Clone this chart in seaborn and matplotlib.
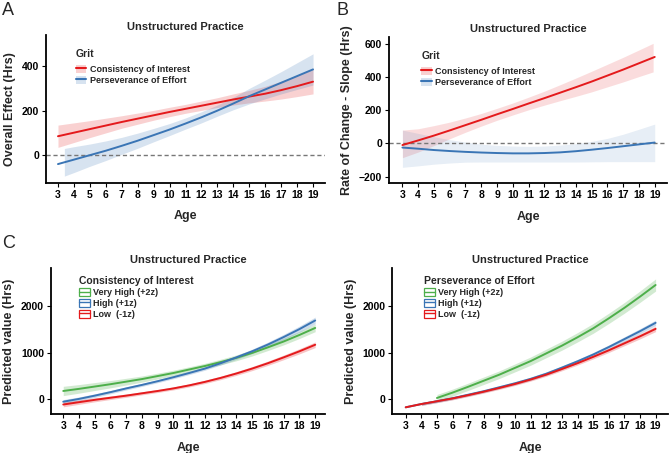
import numpy as np
import pandas as pd
import seaborn as sns
import matplotlib
matplotlib.use("Agg")
import matplotlib.pyplot as plt
from matplotlib.patches import Patch
from matplotlib.lines import Line2D

sns.set_style("ticks")
plt.rcParams['font.family'] = ['Liberation Sans', 'DejaVu Sans']
plt.rcParams['font.weight'] = 'bold'

RED = "#E41A1C"
BLUE = "#3A75B5"
GREEN = "#4DAF4A"

ages = list(range(3, 20))

# Panel A: overall effect
A_ci = [85, 101, 117, 133, 149, 164, 179, 194, 208, 222, 236, 250, 263, 276, 292, 310, 330]
A_ci_half = [50, 44, 38, 33, 28, 25, 22, 21, 20, 21, 22, 25, 28, 33, 40, 47, 55]
A_pe = [-40, -20, 0, 20, 42, 65, 90, 115, 142, 170, 200, 232, 265, 295, 325, 355, 385]
A_pe_band_ages = [3.4] + list(range(4, 20))
A_pe_lo = [-94, -78, -50, -24, 4, 31, 60, 88, 117, 145, 175, 204, 230, 253, 275, 295, 315]
A_pe_hi = [30, 38, 50, 64, 80, 99, 120, 142, 167, 195, 225, 260, 300, 337, 375, 415, 455]

# Panel B: rate of change
B_ci = [-10, 18, 47, 78, 110, 142, 175, 207, 240, 272, 305, 338, 372, 408, 444, 482, 520]
B_ci_band_ages = list(range(3, 19)) + [18.9]
B_ci_mid = [-3, 18, 47, 78, 110, 142, 175, 207, 240, 272, 305, 338, 372, 408, 444, 482, 516]
B_ci_half = [83, 70, 60, 50, 43, 38, 36, 36, 38, 42, 48, 55, 62, 68, 74, 80, 86]
B_pe = [-25, -32, -40, -46, -51, -55, -58, -60, -60, -58, -54, -47, -38, -28, -17, -6, 5]
B_pe_lo = [-144, -135, -125, -118, -113, -112, -112, -112, -112, -112, -112, -112, -111, -110, -110, -110, -110]
B_pe_hi = [80, 60, 40, 22, 8, -5, -12, -16, -18, -16, -10, -2, 12, 30, 55, 85, 116]

# Panel C: Consistency of Interest moderation
C_vh = [180, 225, 275, 325, 380, 435, 500, 565, 640, 715, 800, 890, 995, 1115, 1240, 1380, 1530]
C_vh_half = [100, 92, 85, 78, 72, 66, 62, 60, 58, 58, 60, 62, 65, 68, 72, 76, 80]
C_hi = [-50, 10, 80, 155, 235, 310, 390, 475, 565, 660, 775, 900, 1030, 1175, 1335, 1505, 1690]
C_hi_half = [45, 42, 38, 35, 33, 32, 32, 32, 33, 35, 38, 42, 46, 52, 58, 65, 72]
C_lo = [-110, -60, -10, 35, 80, 130, 180, 235, 300, 375, 460, 555, 660, 775, 900, 1030, 1170]
C_lo_half = [50, 46, 42, 38, 35, 33, 32, 32, 33, 35, 37, 40, 43, 46, 50, 55, 60]

# Panel D: Perseverance of Effort moderation
D_vh_ages = list(range(5, 20))
D_vh = [30, 145, 270, 400, 530, 675, 820, 985, 1150, 1330, 1520, 1735, 1960, 2200, 2450]
D_vh_half = [75, 75, 78, 80, 82, 85, 88, 92, 96, 100, 105, 110, 115, 122, 130]
D_hi = [-170, -100, -40, 25, 100, 175, 260, 345, 440, 550, 680, 815, 960, 1120, 1290, 1460, 1640]
D_hi_half = [30, 30, 30, 30, 30, 31, 32, 33, 35, 37, 40, 43, 46, 50, 54, 58]
D_lo = [-170, -100, -40, 20, 90, 165, 245, 330, 425, 530, 650, 775, 910, 1050, 1200, 1350, 1510]
D_lo_half = [30, 30, 30, 30, 30, 31, 32, 33, 35, 37, 40, 43, 46, 50, 54, 58]

x_ticks = list(range(3, 20))

fig = plt.figure(figsize=(6.69, 4.53), dpi=100)
axA = fig.add_axes([0.0688, 0.596, 0.417, 0.327])
axB = fig.add_axes([0.5815, 0.5954, 0.416, 0.3229])
axC = fig.add_axes([0.0762, 0.0854, 0.41, 0.3236])
axD = fig.add_axes([0.5864, 0.0854, 0.412, 0.3236])


def line(ax, x, y, color):
    df = pd.DataFrame({"x": x, "y": y})
    sns.lineplot(data=df, x="x", y="y", color=color, lw=1.4, ax=ax, errorbar=None)


def band(ax, x, lo, hi, color, alpha=0.2):
    ax.fill_between(x, lo, hi, color=color, alpha=alpha, lw=0)


def style(ax, ylabel, xlim, ylim, yticks):
    ax.set_xlim(*xlim)
    ax.set_ylim(*ylim)
    ax.set_xticks(x_ticks)
    ax.set_yticks(yticks)
    ax.set_xlabel("Age", fontsize=9, fontweight="bold", labelpad=7.5)
    ax.set_ylabel(ylabel, fontsize=9, fontweight="bold", labelpad=4)
    ax.set_title("Unstructured Practice", fontsize=8, fontweight="bold", pad=3.5)
    ax.tick_params(axis="both", labelsize=7.5, length=3, width=0.8, colors="black", pad=2)
    for lab in ax.get_xticklabels() + ax.get_yticklabels():
        lab.set_fontweight("bold")
    sns.despine(ax=ax)
    for s in ("left", "bottom"):
        ax.spines[s].set_linewidth(1.3)
        ax.spines[s].set_color("black")


def make_legend(ax, handles, labels, title, bb, sep):
    leg = ax.legend(handles, labels, title=title, loc="upper left",
                    bbox_to_anchor=bb, frameon=False, fontsize=6.5,
                    title_fontsize=7.5, handlelength=1.2, handleheight=1.0,
                    handletextpad=0.35, labelspacing=0.2, borderpad=0)
    leg._legend_box.align = "left"
    leg._legend_box.sep = sep
    plt.setp(leg.get_title(), fontweight="bold")
    return leg


# --- Panel A
axA.axhline(0, color="#777777", ls=(0, (3, 2)), lw=1.0)
band(axA, ages, np.array(A_ci) - np.array(A_ci_half), np.array(A_ci) + np.array(A_ci_half), RED)
band(axA, A_pe_band_ages, A_pe_lo, A_pe_hi, BLUE)
line(axA, ages, A_ci, RED)
line(axA, ages, A_pe, BLUE)
style(axA, "Overall Effect (Hrs)", (2.25, 19.75), (-125, 540), [0, 200, 400])

# --- Panel B
axB.axhline(0, color="#777777", ls=(0, (3, 2)), lw=1.0)
band(axB, B_ci_band_ages, np.array(B_ci_mid) - np.array(B_ci_half), np.array(B_ci_mid) + np.array(B_ci_half), RED, 0.15)
band(axB, ages, B_pe_lo, B_pe_hi, BLUE, 0.12)
line(axB, ages, B_ci, RED)
line(axB, ages, B_pe, BLUE)
style(axB, "Rate of Change - Slope (Hrs)", (2.15, 19.8), (-240, 640), [-200, 0, 200, 400, 600])

# Legends A/B
grit_handles = [
    (Patch(facecolor=RED, alpha=0.2, lw=0), Line2D([], [], color=RED, lw=1.5)),
    (Patch(facecolor=BLUE, alpha=0.2, lw=0), Line2D([], [], color=BLUE, lw=1.5)),
]
grit_labels = ["Consistency of Interest", "Perseverance of Effort"]
make_legend(axA, grit_handles, grit_labels, "Grit", (0.09, 0.935), 4)
make_legend(axB, grit_handles, grit_labels, "Grit", (0.1, 0.935), 4)

# --- Panel C
band(axC, ages, np.array(C_vh) - np.array(C_vh_half), np.array(C_vh) + np.array(C_vh_half), GREEN, 0.25)
band(axC, ages, np.array(C_hi) - np.array(C_hi_half), np.array(C_hi) + np.array(C_hi_half), BLUE, 0.25)
band(axC, ages, np.array(C_lo) - np.array(C_lo_half), np.array(C_lo) + np.array(C_lo_half), RED, 0.25)
line(axC, ages, C_vh, GREEN)
line(axC, ages, C_hi, BLUE)
line(axC, ages, C_lo, RED)
style(axC, "Predicted value (Hrs)", (2.22, 19.64), (-320, 2820), [0, 1000, 2000])

# --- Panel D
band(axD, D_vh_ages, np.array(D_vh) - np.array(D_vh_half), np.array(D_vh) + np.array(D_vh_half), GREEN, 0.25)
band(axD, ages[1:], np.array(D_hi[1:]) - np.array(D_hi_half), np.array(D_hi[1:]) + np.array(D_hi_half), BLUE, 0.25)
band(axD, ages[1:], np.array(D_lo[1:]) - np.array(D_lo_half), np.array(D_lo[1:]) + np.array(D_lo_half), RED, 0.25)
line(axD, D_vh_ages, D_vh, GREEN)
line(axD, ages, D_hi, BLUE)
line(axD, ages, D_lo, RED)
style(axD, "Predicted value (Hrs)", (2.14, 19.79), (-320, 2820), [0, 1000, 2000])

lvl_labels = ["Very High (+2z)", "High (+1z)", "Low  (-1z)"]
lvl_colors = [GREEN, BLUE, RED]
lvl_handles = [(Patch(facecolor="white", edgecolor=c, lw=0.9), Line2D([], [], color=c, lw=1.0))
               for c in lvl_colors]
make_legend(axC, lvl_handles, lvl_labels, "Consistency of Interest", (0.085, 0.975), 1.5)
make_legend(axD, lvl_handles, lvl_labels, "Perseverance of Effort", (0.1, 0.975), 1.5)

# Panel letters
fig.text(0.003, 0.995, "A", fontsize=13, fontweight="normal", va="top", ha="left")
fig.text(0.503, 0.995, "B", fontsize=13, fontweight="normal", va="top", ha="left")
fig.text(0.003, 0.482, "C", fontsize=13, fontweight="normal", va="top", ha="left")

fig.savefig("out.png", dpi=100)
